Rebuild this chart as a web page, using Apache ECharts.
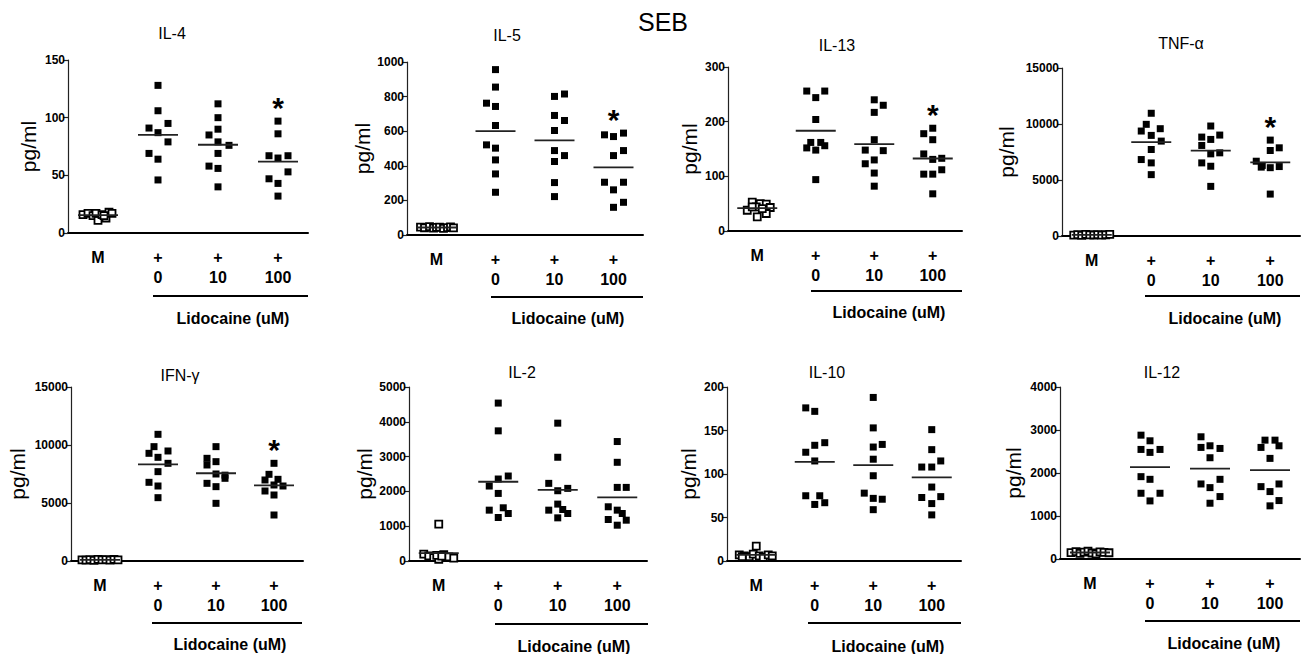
<!DOCTYPE html>
<html>
<head>
<meta charset="utf-8">
<script src="https://cdn.jsdelivr.net/npm/echarts@6/dist/echarts.min.js"></script>
<style>
html,body{margin:0;padding:0;background:#fff;}
#chart{width:1301px;height:654px;}
</style>
</head>
<body>
<div id="chart"></div>
<script>
// x categories: medium, then SEB + lidocaine 0 / 10 / 100 uM
var cats = ['M', '+\n0', '+\n10', '+\n100'];
var names = ['IL-4', 'IL-5', 'IL-13', 'TNF-α', 'IFN-γ', 'IL-2', 'IL-10', 'IL-12'];
var yMax = [150, 1000, 300, 15000, 15000, 5000, 200, 4000];
var yStep = [50, 200, 100, 5000, 5000, 1000, 50, 1000];
var starred = [true, true, true, true, true, false, false, false];

// values (pg/ml) per group: [M, 0, 10, 100]
var il4 = [
  [16, 17, 15, 11, 17, 16, 13, 18, 17, 15],
  [128, 106, 95, 91, 87, 79, 69, 64, 46],
  [112, 100, 90, 85, 79, 76, 69, 58, 56, 40],
  [97, 86, 67, 67, 65, 53, 47, 43, 32]
];
var il5 = [
  [45, 42, 48, 40, 44, 46, 38, 43, 47, 41],
  [956, 855, 762, 743, 633, 521, 502, 434, 353, 247],
  [815, 801, 691, 662, 604, 488, 459, 425, 303, 222],
  [589, 579, 569, 488, 459, 305, 305, 261, 189, 160]
];
var il13 = [
  [53, 50, 49, 38, 44, 43, 26, 32, 44, 41],
  [256, 256, 244, 204, 162, 162, 156, 152, 148, 94],
  [240, 230, 217, 167, 148, 147, 130, 123, 106, 82],
  [188, 178, 167, 141, 133, 131, 112, 104, 104, 68]
];
var tnf = [
  [80, 120, 60, 150, 100, 90, 130, 70, 110, 140],
  [10958, 9970, 9581, 9372, 8982, 8473, 7725, 6826, 6527, 5479],
  [9820, 9012, 8832, 8623, 8084, 7425, 7335, 6527, 6228, 4431],
  [8563, 7874, 7635, 6677, 6300, 6150, 6100, 6200, 3743]
];
var ifn = [
  [100, 80, 120, 60, 140, 90, 110, 70, 130, 100],
  [10921, 9858, 9484, 9283, 8938, 8421, 7702, 6783, 6466, 5460],
  [9858, 8852, 8564, 8277, 7501, 7400, 7128, 6696, 6409, 4972],
  [8421, 7472, 7041, 6984, 6553, 6466, 6035, 5690, 3966]
];
var il2 = [
  [1058, 200, 150, 100, 50, 180, 120, 80, 160, 140],
  [4538, 3740, 2442, 2356, 2154, 1942, 1529, 1461, 1365, 1250],
  [3961, 2981, 2231, 2087, 2019, 1635, 1480, 1461, 1365, 1240],
  [3433, 2836, 2115, 2115, 1558, 1461, 1365, 1192, 1173, 1029]
];
var il10 = [
  [17, 7, 6, 5, 8, 6, 4, 7, 6, 5],
  [176, 172, 136, 133, 125, 115, 75, 75, 67, 65],
  [188, 153, 134, 131, 117, 98, 78, 72, 71, 59],
  [151, 128, 115, 108, 108, 85, 74, 73, 66, 53]
];
var il12 = [
  [150, 170, 130, 160, 180, 140, 120, 165, 155, 145],
  [2880, 2749, 2548, 2548, 2479, 1915, 1853, 1529, 1529, 1351],
  [2842, 2633, 2595, 2571, 2355, 1853, 1745, 1660, 1452, 1297],
  [2764, 2764, 2633, 2595, 2340, 1745, 1683, 1568, 1359, 1236]
];
var panels = [il4, il5, il13, tnf, ifn, il2, il10, il12];

// horizontal scatter of the dots (px), same shape as the data
var jit = [
  [[-15, -10, -5, 0, -2, 4, 8, 11, 14, 6], [0, 0, 10, -9, 0, 10, -9, 0, 0], [0, 0, 0, -9, 0, 11, 0, -9, 0, 0], [0, 0, -9, 10, 0, 10, -9, 0, 0]],
  [[-16, -12, -7, -3, 0, 3, 7, 11, 14, 17], [0, 0, -9, 0, 0, -9, 0, 0, 0, 0], [10, 0, 0, 10, 0, 0, 10, 0, 0, 0], [10, -9, 0, 10, 0, -9, 10, 0, 10, 0]],
  [[-5, 3, 9, -10, -1, 13, 0, 9, -5, 5], [-9, 9, 0, 0, -5, 5, 9, -9, 0, 0], [0, 9, 0, 0, -9, 9, 0, -9, 0, 0], [0, -9, 0, -9, 9, 0, 9, -9, 0, 0]],
  [[-18, -14, -10, -6, -2, 2, 6, 10, 14, 18], [0, -5, 9, -10, 0, 10, 0, -10, 0, 0], [0, 9, -9, 0, -9, 9, 0, -9, 0, 0], [0, 9, 0, -14, -8, -9, 0, 9, 0]],
  [[-18, -14, -10, -6, -2, 2, 6, 10, 14, 18], [0, -4, 10, -9, 0, 10, 0, -9, 0, 0], [0, -9, 0, -9, 0, 9, 9, -9, 0, 0], [0, -5, 4, -9, 0, 9, -9, 0, 0]],
  [[0, -15, -10, -5, 0, 5, 10, 15, -2, 3], [0, 0, 10, 0, -9, 0, 5, -9, 10, 0], [0, 0, -9, 10, 0, 0, 5, -9, 10, 0], [0, 0, 0, 9, -9, 0, 5, -9, 9, 0]],
  [[0, -17, -12, -7, -3, 3, 7, 12, 16, -14], [-9, 0, 10, 0, -9, 0, -9, 5, 10, 0], [0, 0, 9, 0, 0, 0, -9, 0, 9, 0], [0, 0, 9, -10, 0, 0, 9, -10, 0, 0]],
  [[-19, -14, -10, -6, -2, 2, 6, 10, 14, 19], [-9, 0, -9, 10, 0, -9, 0, -9, 10, 0], [-9, 0, -9, 10, 0, 10, -9, 0, 10, 0], [-5, 5, 9, -9, 0, 9, -9, 0, 9, 0]]
];

// layout
var boxes = [[68, 60, 240, 173], [407, 62, 236, 173], [728, 67, 234, 164], [1062, 68, 238, 168],
             [71, 387, 232, 174], [409, 387, 238, 174], [727, 387, 234, 174], [1060, 387, 240, 172]];
var titlePos = [[172, 33], [507, 35], [837, 45], [1181, 43], [180, 375], [522, 372], [827, 372], [1162, 372]];
var lidoPos = [[233, 318], [568, 318], [889, 312], [1225, 318], [230, 644], [574, 646], [888, 646], [1224, 643]];
var underline = [[153, 308, 296], [491, 643, 297], [811, 962, 291], [1145, 1300, 296],
                 [152, 302, 623], [495, 648, 624], [808, 961, 623], [1145, 1300, 621]];
var nameGaps = [29, 34, 28, 45, 43, 33, 28, 36];

var font = 'Arial, "Liberation Sans", sans-serif';

function mean(a) {
  var s = 0;
  for (var k = 0; k < a.length; k++) s += a[k];
  return s / a.length;
}

var chart = echarts.init(document.getElementById('chart'), null, {renderer: 'svg'});

var grid = [], xAxis = [], yAxis = [], series = [];
var graphic = [{
  type: 'text', x: 663, y: 22,
  style: {text: 'SEB', font: '25px ' + font, fill: '#000', align: 'center', verticalAlign: 'middle', textAlign: 'center', textVerticalAlign: 'middle'}
}];

for (var i = 0; i < 8; i++) {
  var b = boxes[i];
  var groups = panels[i];
  grid.push({left: b[0], top: b[1], width: b[2], height: b[3]});
  xAxis.push({
    type: 'category', gridIndex: i, data: cats,
    axisLine: {lineStyle: {color: '#000', width: 2}},
    axisTick: {alignWithLabel: true, length: 5, lineStyle: {color: '#000', width: 1.5}},
    axisLabel: {interval: 0, color: '#000', fontWeight: 'bold', fontSize: 16, lineHeight: 20, margin: 14, fontFamily: font}
  });
  yAxis.push({
    type: 'value', gridIndex: i, min: 0, max: yMax[i], interval: yStep[i],
    name: 'pg/ml', nameLocation: 'middle', nameGap: nameGaps[i],
    nameTextStyle: {color: '#000', fontSize: 21, fontFamily: font},
    axisLine: {show: true, lineStyle: {color: '#222', width: 1.2}},
    axisTick: {show: true, length: 5, lineStyle: {color: '#222', width: 1.2}},
    axisLabel: {color: '#000', fontWeight: 'bold', fontSize: 12, margin: 3, fontFamily: font,
                formatter: function (v) { return String(v); }},
    splitLine: {show: false}
  });

  // medium (open squares)
  series.push({
    type: 'scatter', xAxisIndex: i, yAxisIndex: i, symbol: 'rect', symbolSize: 7,
    itemStyle: {color: '#fff', borderColor: '#000', borderWidth: 1.8, opacity: 1},
    data: groups[0].map(function (v, k) { return {value: [0, v], symbolOffset: [jit[i][0][k], 0]}; }),
    z: 2
  });

  // stimulated (filled squares)
  var filled = [];
  for (var g = 1; g < 4; g++) {
    for (var k = 0; k < groups[g].length; k++) {
      filled.push({value: [g, groups[g][k]], symbolOffset: [jit[i][g][k], 0]});
    }
  }
  var s = {
    type: 'scatter', xAxisIndex: i, yAxisIndex: i, symbol: 'rect', symbolSize: 7,
    itemStyle: {color: '#000', opacity: 1}, data: filled, z: 3
  };
  if (starred[i]) {
    s.markPoint = {
      symbol: 'rect', symbolSize: 0, silent: true,
      label: {show: true, formatter: '*', color: '#000', fontSize: 30, fontWeight: 'bold', fontFamily: font, offset: [0, -14]},
      data: [{coord: [3, Math.max.apply(null, groups[3])]}]
    };
  }
  series.push(s);

  // mean lines
  series.push({
    type: 'scatter', xAxisIndex: i, yAxisIndex: i, symbol: 'rect', symbolSize: [40, 1.8],
    itemStyle: {color: '#222', opacity: 1},
    data: groups.map(function (a, gi) { return [gi, mean(a)]; }),
    z: 4
  });

  graphic.push({
    type: 'text', x: titlePos[i][0], y: titlePos[i][1],
    style: {text: names[i], font: '16px ' + font, fill: '#000', align: 'center', verticalAlign: 'middle', textAlign: 'center', textVerticalAlign: 'middle'}
  });
  graphic.push({
    type: 'text', x: lidoPos[i][0], y: lidoPos[i][1],
    style: {text: 'Lidocaine (uM)', font: 'bold 16px ' + font, fill: '#000', align: 'center', verticalAlign: 'middle', textAlign: 'center', textVerticalAlign: 'middle'}
  });
  graphic.push({
    type: 'line', shape: {x1: underline[i][0], y1: underline[i][2], x2: underline[i][1], y2: underline[i][2]},
    style: {stroke: '#000', lineWidth: 2}
  });
}

chart.setOption({
  animation: false,
  backgroundColor: '#fff',
  grid: grid,
  xAxis: xAxis,
  yAxis: yAxis,
  series: series,
  graphic: graphic
});
</script>
</body>
</html>
